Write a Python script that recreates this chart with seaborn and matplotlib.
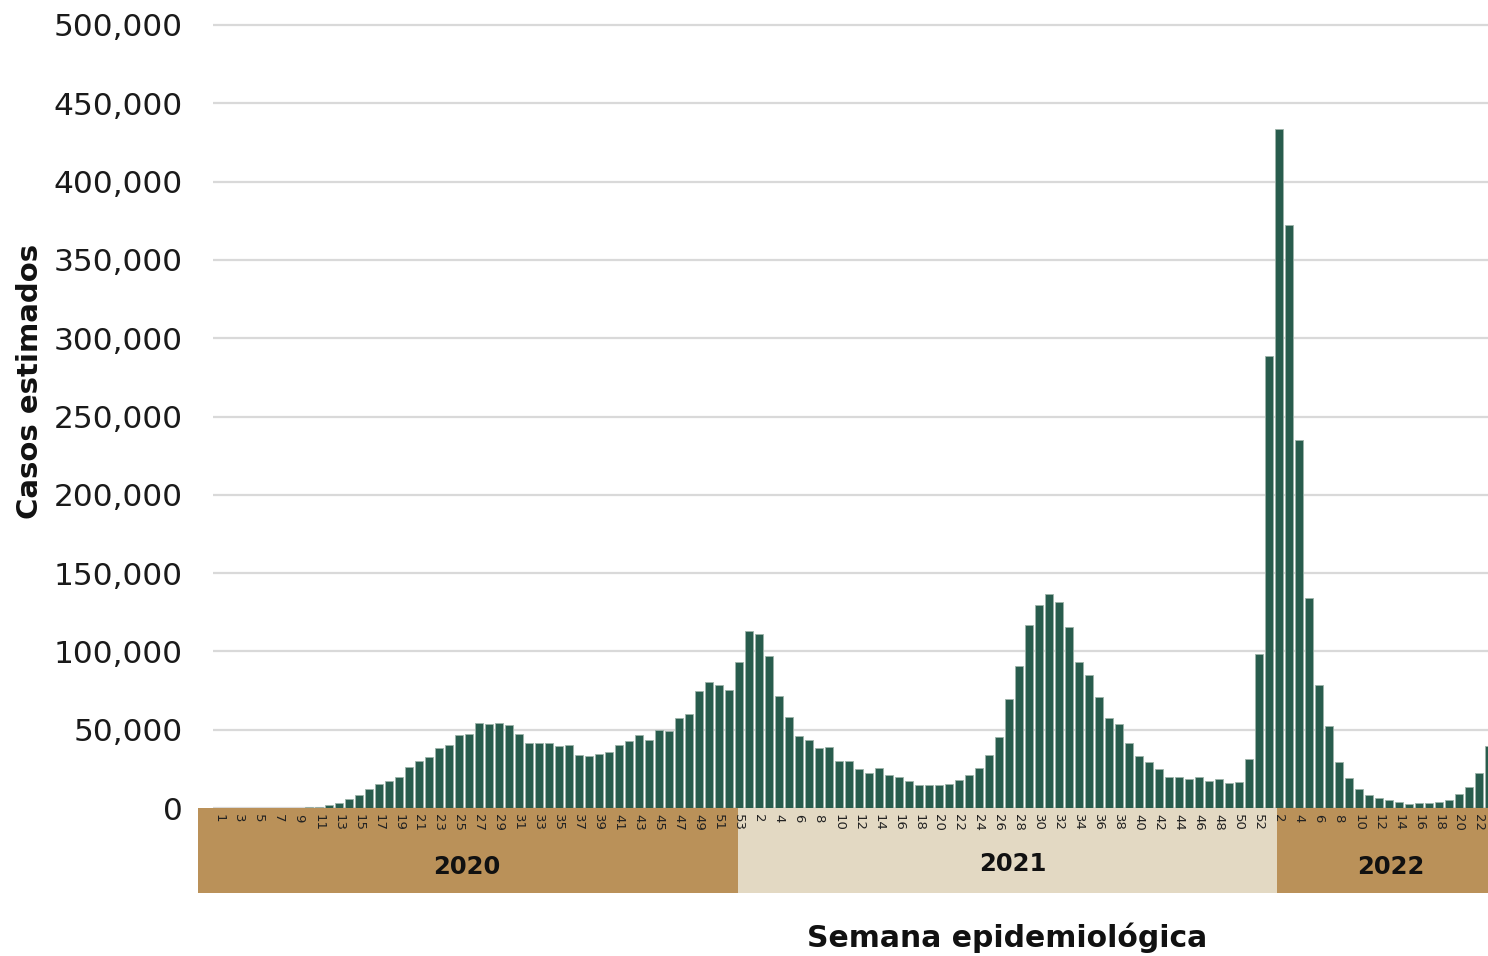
import numpy as np
import pandas as pd
import matplotlib
matplotlib.use("Agg")
import matplotlib.pyplot as plt
from matplotlib.patches import Rectangle
from matplotlib.ticker import FuncFormatter
import seaborn as sns

# ---------------- data ----------------
years = ["2020", "2021", "2022"]

cases_2020 = [0, 0, 0, 0, 0, 50, 100, 200, 300, 500, 700,
              1700, 3200, 5600, 8100, 12200, 15200, 17100, 20100, 25900,
              29900, 32300, 38500, 40400, 46600, 47000, 54100, 53600, 54300,
              52800, 47400, 41200, 41700, 41700, 39500, 40000, 33800, 32900,
              34600, 35500, 40000, 42500, 46600, 43400, 49600, 49100, 57300,
              59800, 74600, 80300, 78400, 75200, 93000]

cases_2021 = [113200, 111100, 97200, 71800, 57900, 46000, 43400, 38500,
              39100, 30200, 30000, 25100, 22600, 25500, 21100, 19800, 17200,
              14900, 14500, 14900, 15300, 17700, 21100, 25500, 33600, 45200,
              69900, 90600, 116900, 129500, 136800, 131800, 115800, 93400,
              85000, 70700, 57300, 53800, 41200, 32900, 29100, 25200, 20100,
              19900, 18600, 19900, 17500, 18600, 16200, 16900, 31000, 98500]

cases_2022 = [288500, 433300, 372600, 235300, 133800, 78400, 52100, 29500,
              19000, 12000, 8300, 6600, 5300, 4100, 2400, 3200, 3200, 4100,
              5300, 9200, 13200, 22600, 39300]

yticks = [0, 50000, 100000, 150000, 200000, 250000, 300000, 350000, 400000,
          450000, 500000]

ylabel = "Casos estimados"
xlabel = "Semana epidemiológica"

# ---------------- frame ----------------
rows = []
pos = 0
for yr, vals in zip(years, [cases_2020, cases_2021, cases_2022]):
    for w, v in enumerate(vals, start=1):
        rows.append({"pos": pos, "year": yr, "week": w, "cases": v})
        pos += 1
df = pd.DataFrame(rows)

# tick labels: odd weeks in 2020, even weeks in 2021 / 2022 (2022 up to 22)
def labelled(r):
    if r["year"] == "2020":
        return r["week"] % 2 == 1
    if r["year"] == "2021":
        return r["week"] % 2 == 0
    return r["week"] % 2 == 0 and r["week"] <= 22
tick_df = df[df.apply(labelled, axis=1)]

# ---------------- plot ----------------
sns.set_theme(style="white")
plt.rcParams["font.family"] = ["DejaVu Sans"]

W, H = 1488, 956
fig = plt.figure(figsize=(W / 100, H / 100), dpi=100)
fig.patch.set_facecolor("white")

ymax = 502000
px_per_unit = 783 / 500000
top_px = 808 - ymax * px_per_unit
ax = fig.add_axes([213 / W, 1 - 808 / H, (W - 213) / W, (808 - top_px) / H])

sns.barplot(data=df, x="pos", y="cases", color="#285C4D", saturation=1,
            width=0.8, edgecolor="#9db3a9", linewidth=0.6, errorbar=None,
            ax=ax, zorder=2)

ax.set_ylim(0, ymax)
ax.set_xlim(-0.57, 126.93)
ax.set_axisbelow(True)
ax.set_yticks(yticks)
ax.yaxis.set_major_formatter(FuncFormatter(lambda v, p: f"{int(v):,}"))
ax.grid(axis="y", color="#d9d9d9", linewidth=1.6)
ax.grid(axis="x", visible=False)
ax.tick_params(axis="y", length=0, pad=22, labelsize=22.5, labelcolor="#1a1a1a")
ax.set_xticks(tick_df["pos"].tolist())
ax.set_xticklabels([str(w) for w in tick_df["week"]], rotation=-90,
                   fontsize=9.5, color="#222222")
ax.tick_params(axis="x", length=0, pad=4)
ax.set_xlabel("")
ax.set_ylabel("")
sns.despine(ax=ax, left=True, bottom=True)

# year bands below the axis
band_h = (893 - 808) / (808 - top_px)
trans = ax.get_xaxis_transform()
band_edges = [-2.07, 51.93, 105.83, 135.0]
band_cols = ["#BA9159", "#E3D9C3", "#BA9159"]
for i, yr in enumerate(years):
    ax.add_patch(Rectangle((band_edges[i], -band_h),
                           band_edges[i + 1] - band_edges[i], band_h,
                           transform=trans, clip_on=False,
                           facecolor=band_cols[i], edgecolor="none",
                           zorder=0.2))

year_x = [467, 1013, 1391]
year_y = [867, 864, 867]
for yr, xp, yp in zip(years, year_x, year_y):
    fig.text(xp / W, 1 - yp / H, yr, ha="center", va="center",
             fontsize=17.5, fontweight="bold", color="#111111")

fig.text(30 / W, 1 - 381 / H, ylabel, rotation=90, ha="center", va="center",
         fontsize=21, fontweight="bold", color="#111111")
fig.text(1007 / W, 1 - 938 / H, xlabel, ha="center", va="center",
         fontsize=21.5, fontweight="bold", color="#111111")

fig.savefig("out.png", dpi=100, facecolor="white")
